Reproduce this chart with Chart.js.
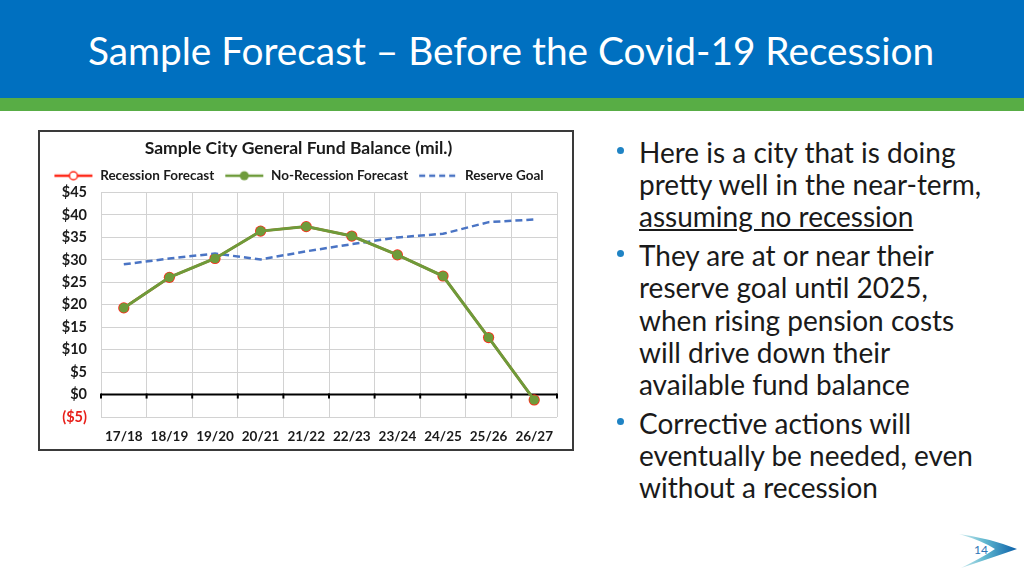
<!DOCTYPE html>
<html>
<head>
<meta charset="utf-8">
<script src="https://cdn.jsdelivr.net/npm/chart.js@4"></script>
<style>
  html, body { margin:0; padding:0; }
  body { width:1024px; height:576px; position:relative; overflow:hidden; background:#fff; font-family: Lato, "Open Sans", sans-serif; }
  .header { position:absolute; left:0; top:0; width:1024px; height:98px; background:#0070C0; }
  .stripe { position:absolute; left:0; top:98px; width:1024px; height:13px; background:#58AD45; }
  .title { position:absolute; left:88px; top:27px; color:#fff; font-size:38.8px; white-space:nowrap; }
  .chartBox { position:absolute; left:38px; top:130px; width:532px; height:317px; border:2px solid #3a3a3a; background:#fff; }
  .bullets { position:absolute; left:639px; top:136px; width:352px; color:#1a1a1a; font-size:28px; line-height:32.2px; }
  .bullets p { margin:0 0 6.6px 0; position:relative; }
  .bullets p::before { content:""; position:absolute; left:-22px; top:11px; width:7px; height:7px; border-radius:50%; background:#1F83C4; }
  .pageNo { position:absolute; left:974px; top:542px; font-size:12px; color:#2E75B6; }
</style>
</head>
<body>
<div class="header"></div>
<div class="stripe"></div>
<div class="title">Sample Forecast – Before the Covid-19 Recession</div>

<div class="chartBox"><canvas id="fundChart" width="532" height="317"></canvas></div>

<div class="bullets">
  <p>Here is a city that is doing pretty well in the near-term, <u>assuming no recession</u></p>
  <p>They are at or near their reserve goal until 2025, when rising pension costs will drive down their available fund balance</p>
  <p>Corrective actions will eventually be needed, even without a recession</p>
</div>

<svg style="position:absolute;left:955px;top:528px" width="66" height="44">
  <defs>
    <linearGradient id="sw" x1="0" y1="0" x2="1" y2="0">
      <stop offset="0" stop-color="#d4eef0"/>
      <stop offset="0.45" stop-color="#5fb7cf"/>
      <stop offset="1" stop-color="#0a5fa8"/>
    </linearGradient>
  </defs>
  <path d="M4 6 Q34 10 62 21 Q36 30 6 40 Q30 28 40 21 Q28 13 4 6 Z" fill="url(#sw)"/>
</svg>
<div class="pageNo">14</div>

<script>
// chart values
const years = ["17/18","18/19","19/20","20/21","21/22","22/23","23/24","24/25","25/26","26/27"];
const recessionForecast = [19.3, 26.1, 30.3, 36.4, 37.4, 35.3, 31.1, 26.4, 12.7, -1.2];
const noRecessionForecast = [19.3, 26.1, 30.3, 36.4, 37.4, 35.3, 31.1, 26.4, 12.7, -1.2];
const reserveGoal = [29.0, 30.3, 31.4, 30.1, 31.9, 33.5, 35.0, 35.8, 38.4, 39.0];

const RED = "#FF2A1A";
const GREEN = "#6E9B3A";
const BLUE = "#4A74C4";
const FONT = "Lato, 'Open Sans', sans-serif";

// little legend swatches: line with marker
function swatch(color, kind){
    const c = document.createElement("canvas");
    c.width = 40; c.height = 12;
    const g = c.getContext("2d");
    g.strokeStyle = color;
    g.lineWidth = 2.5;
    if(kind === "dash") g.setLineDash([6,4]);
    g.beginPath(); g.moveTo(1,6); g.lineTo(39,6); g.stroke();
    g.setLineDash([]);
    if(kind === "hollow"){
        g.fillStyle = "#fff";
        g.beginPath(); g.arc(20,6,4,0,Math.PI*2); g.fill(); g.lineWidth = 1.5; g.stroke();
    } else if(kind === "dot"){
        g.fillStyle = color;
        g.beginPath(); g.arc(20,6,4.5,0,Math.PI*2); g.fill();
    }
    return c;
}

// black zero line with small tick marks at the category boundaries
const zeroLine = {
    id:"zeroLine",
    beforeDatasetsDraw(chart){
        const ctx = chart.ctx, x = chart.scales.x, y = chart.scales.y;
        const y0 = y.getPixelForValue(0);
        ctx.save();
        ctx.strokeStyle = "#000";
        ctx.lineWidth = 2;
        ctx.beginPath();
        ctx.moveTo(chart.chartArea.left, y0);
        ctx.lineTo(chart.chartArea.right, y0);
        ctx.stroke();
        for(let i=0;i<=years.length;i++){
            const px = x.getPixelForValue(i-0.5);
            ctx.beginPath(); ctx.moveTo(px, y0-1); ctx.lineTo(px, y0+4); ctx.stroke();
        }
        ctx.restore();
    }
};

const ctx = document.getElementById("fundChart").getContext("2d");

new Chart(ctx,{
    type:"line",
    data:{
        labels:years,
        datasets:[
            {
                label:"Recession Forecast",
                data:recessionForecast,
                borderColor:RED,
                backgroundColor:"#fff",
                borderWidth:2.5,
                pointRadius:5.6,
                pointBorderWidth:0,
                pointBackgroundColor:RED,
                order:3,
                legendSwatch:swatch(RED,"hollow")
            },
            {
                label:"No-Recession Forecast",
                data:noRecessionForecast,
                borderColor:GREEN,
                backgroundColor:GREEN,
                borderWidth:3,
                pointRadius:4.8,
                pointBorderWidth:0,
                pointBackgroundColor:GREEN,
                order:1,
                legendSwatch:swatch(GREEN,"dot")
            },
            {
                label:"Reserve Goal",
                data:reserveGoal,
                borderColor:BLUE,
                borderWidth:2.5,
                borderDash:[7,4],
                pointRadius:0,
                order:2,
                legendSwatch:swatch(BLUE,"dash")
            }
        ]
    },
    options:{
        responsive:false,
        animation:false,
        layout:{ padding:{ left:0, right:15, top:2, bottom:0 } },
        plugins:{
            title:{
                display:true,
                text:"Sample City General Fund Balance (mil.)",
                color:"#1a1a1a",
                font:{ family:FONT, size:17.5, weight:"bold" },
                padding:{ top:4, bottom:0 }
            },
            legend:{
                position:"top",
                labels:{
                    usePointStyle:true,
                    pointStyleWidth:40,
                    color:"#1a1a1a",
                    font:{ family:FONT, size:13.5, weight:"bold" },
                    padding:10,
                    generateLabels(chart){
                        return chart.data.datasets.map((ds,i)=>({
                            text:ds.label,
                            pointStyle:ds.legendSwatch,
                            fillStyle:ds.borderColor,
                            strokeStyle:ds.borderColor,
                            lineWidth:0,
                            fontColor:"#1a1a1a",
                            hidden:false,
                            datasetIndex:i
                        }));
                    }
                }
            },
            tooltip:{ enabled:false }
        },
        scales:{
            x:{
                offset:true,
                grid:{ color:"#D2D2D2", offset:true, drawTicks:false },
                border:{ display:false },
                afterFit:(s)=>{ s.height = 32; },
                ticks:{
                    color:"#1a1a1a",
                    padding:12,
                    maxRotation:0,
                    font:{ family:FONT, size:13.5, weight:"bold" }
                }
            },
            y:{
                min:-5,
                max:45,
                grid:{ color:"#D2D2D2", drawTicks:false },
                border:{ display:false },
                afterFit:(s)=>{ s.width = 61; },
                ticks:{
                    stepSize:5,
                    autoSkip:false,
                    padding:14,
                    color:(c)=> c.tick.value < 0 ? "#E8201A" : "#1a1a1a",
                    font:{ family:FONT, size:14.5, weight:"bold" },
                    callback:(v)=> v < 0 ? "($" + (-v) + ")" : "$" + v
                }
            }
        }
    },
    plugins:[zeroLine]
});
</script>
</body>
</html>
